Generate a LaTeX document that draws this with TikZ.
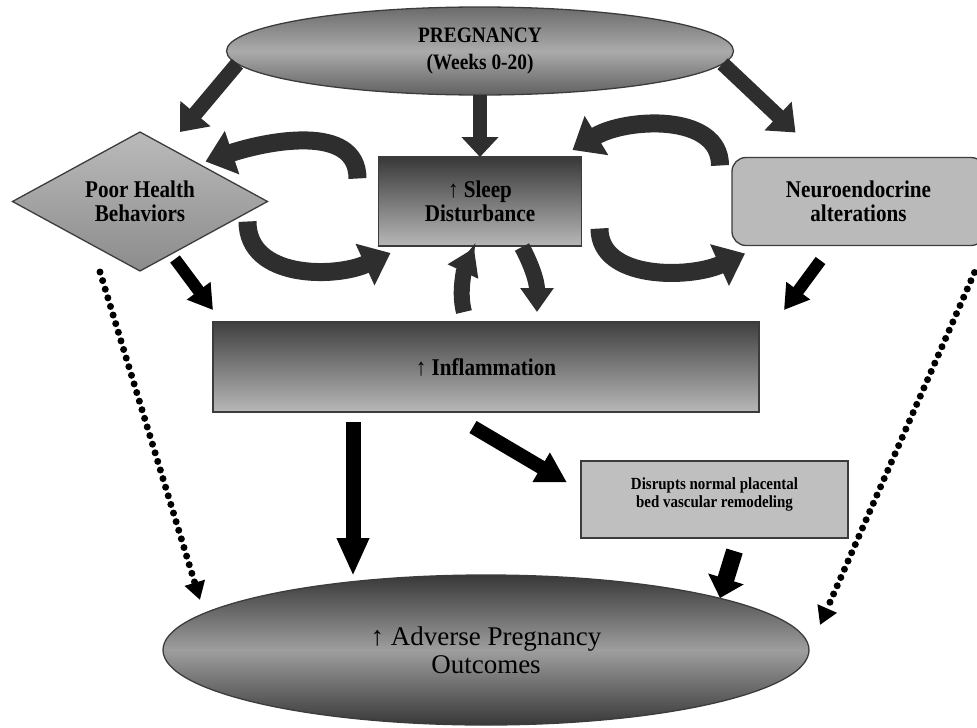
\documentclass[tikz,border=0pt]{standalone}
\usepackage{fontspec}
\setmainfont{Liberation Serif}
\newfontfamily\condfont[FakeStretch=0.88]{Liberation Serif}
\usetikzlibrary{positioning,shapes.geometric,arrows.meta}
\definecolor{arrgray}{HTML}{2E2E2E}
\definecolor{edgegray}{HTML}{3C3C3C}
\begin{document}
\begin{tikzpicture}[x=1pt,y=-1pt,
    box/.style={draw=edgegray,%
      line width=1.3pt,%
      outer sep=0, inner sep=0,%
      align=center,%
      font=\condfont\bfseries\fontsize{24}{24}\selectfont},
    darkbox/.style={box, top color=#1, bottom color=black!28},
    bigarr/.style={draw=arrgray, line width=15pt, -{Triangle[width=38pt,length=24pt]}},
    blkarr/.style={draw=black, line width=12pt, -{Triangle[width=28pt,length=24pt]}},
    cycarr/.style={draw=arrgray, line width=18pt, -{Triangle[width=44pt,length=28pt]}},
    dotarr/.style={draw=black, line width=7pt, line cap=round,%
      dash pattern=on 0pt off 9pt, -{Triangle[width=20pt,length=18pt]}}
    ]
    \useasboundingbox (0,0) rectangle (977,728);
    \node[box, ellipse, minimum width=507pt, minimum height=88pt,
      top color=black!58, bottom color=black!62, middle color=black!33,
      font=\condfont\bfseries\fontsize{22}{27}\selectfont] (preg) at (480,51) {PREGNANCY\\(Weeks 0-20)};
    \node[darkbox=black!78, minimum width=203pt, minimum height=89pt, below=62pt of preg] (sleep) {↑ Sleep\\Disturbance};
    \node[box, diamond, aspect=1.83, minimum width=255pt, minimum height=139pt,
      top color=black!27, bottom color=black!45, left=111pt of sleep] (phb) {Poor Health\\Behaviors};
    \node[box, rounded corners=14pt, fill=black!27, minimum width=253pt, minimum height=88pt,
      right=150.5pt of sleep] (neuro) {Neuroendocrine\\alterations};
    \node[darkbox=black!75, minimum width=546pt, minimum height=90pt] (infl) at (486,367) {↑ Inflammation};
    \node[box, fill=black!25, minimum width=267pt, minimum height=77pt, text depth=14pt,
      font=\condfont\bfseries\fontsize{17}{18}\selectfont] (disr) at (714.5,499.5) {Disrupts normal placental\\bed vascular remodeling};
    \node[box, ellipse, minimum width=646pt, minimum height=150pt,
      top color=black!78, bottom color=black!78, middle color=black!38,
      font=\fontsize{27}{28}\selectfont] (apo) at (486,650) {↑ Adverse Pregnancy\\Outcomes};
    \draw[bigarr] (preg.183) -- ([xshift=40pt]phb.north);
    \draw[bigarr, line width=14pt, -{Triangle[width=36pt,length=20pt]}] (preg.south) -- (sleep.north);
    \draw[bigarr] (preg.-3) -- ([xshift=-63pt,yshift=25pt]neuro.north);
    \draw[cycarr] ([xshift=-21pt,yshift=23pt]sleep.west) .. controls +(0,-56) and +(60,-20) .. ([xshift=-62pt,yshift=40pt]phb.east);
    \draw[cycarr] ([xshift=-20pt,yshift=-20pt]phb.east) .. controls +(0,58) and +(-55,25) .. ([xshift=12pt,yshift=-7pt]sleep.south west);
    \draw[cycarr] ([xshift=-12pt,yshift=-8pt]neuro.north west) .. controls +(0,-53) and +(53,-32) .. ([xshift=-9pt,yshift=7pt]sleep.north east);
    \draw[cycarr] ([xshift=18pt,yshift=-27pt]sleep.east) .. controls +(0,52) and +(-55,25) .. ([xshift=13pt,yshift=-8pt]neuro.south west);
    \draw[cycarr, line width=16pt, -{Triangle[width=32pt,length=26pt]}] ([xshift=-22pt,yshift=10pt]infl.north) .. controls +(-6,-22) and +(-8,17) .. ([xshift=-6pt,yshift=-2pt]sleep.south);
    \draw[cycarr, line width=16pt, -{Triangle[width=32pt,length=24pt]}] ([xshift=42pt,yshift=-1pt]sleep.south) .. controls +(8,15) and +(0,-32) .. ([xshift=51pt,yshift=10pt]infl.north);
    \draw[blkarr] ([xshift=35pt,yshift=12pt]phb.south) -- ([yshift=12pt]infl.north west);
    \draw[blkarr] ([xshift=-38pt,yshift=-15pt]neuro.south) -- ([xshift=25pt,yshift=12pt]infl.north east);
    \draw[blkarr, line width=15pt, -{Triangle[width=30pt,length=38pt]}] ([xshift=-133pt,yshift=-10pt]infl.south) -- ([xshift=-133pt,yshift=-1pt]apo.north);
    \draw[blkarr, line width=14pt, -{Triangle[width=32pt,length=30pt]}] ([xshift=-13pt,yshift=-15pt]infl.south) -- ([xshift=-14pt,yshift=17pt]disr.west);
    \draw[blkarr, line width=17pt, -{Triangle[width=36pt,length=20pt]}] ([xshift=20pt,yshift=-13pt]disr.south) -- ([xshift=234pt,yshift=-23pt]apo.north);
    \draw[dotarr] ([xshift=-40pt,yshift=-1pt]phb.south) -- ([xshift=37pt,yshift=50pt]apo.west);
    \draw[dotarr] ([xshift=116pt,yshift=-27pt]neuro.south) -- ([xshift=11pt,yshift=25pt]apo.east);
  \end{tikzpicture}
\end{document}
